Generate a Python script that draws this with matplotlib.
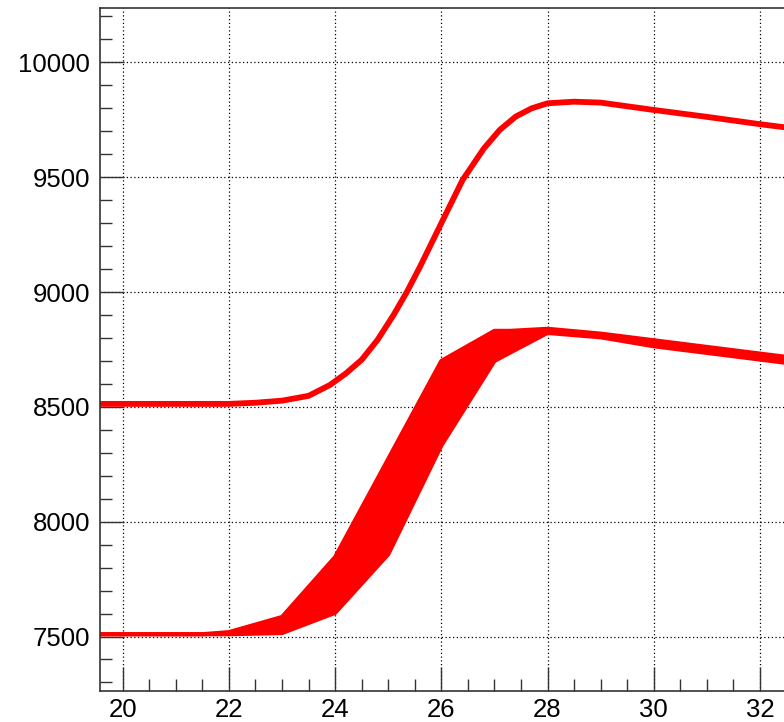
import numpy as np
import matplotlib.pyplot as plt
from matplotlib.ticker import MultipleLocator

plt.rcParams['font.family'] = ['Liberation Sans', 'DejaVu Sans']

# upper curve (thin band)
upper_x = [19.5, 22, 22.5, 23, 23.5, 23.9, 24.2, 24.5, 24.8, 25.1, 25.35, 25.6,
           26, 26.4, 26.8, 27.1, 27.4, 27.7, 28, 28.5, 29, 30, 31, 32, 33]
upper_y = [8513, 8513, 8518, 8527, 8548, 8595, 8645, 8705, 8792, 8900, 9000, 9111,
           9300, 9488, 9625, 9706, 9764, 9800, 9822, 9829, 9825, 9793, 9763, 9731, 9702]

# lower ensemble, envelope of the many lines
band_x = [19.5, 20, 21, 21.5, 22, 23, 24, 25, 26, 27, 27.3, 28, 29, 30, 31, 32, 33]
band_low = [7510, 7510, 7510, 7510, 7510, 7515, 7603, 7858, 8332, 8700, 8737,
            8822, 8803, 8764, 8735, 8706, 8677]
band_high = [7510, 7510, 7510, 7510, 7519, 7585, 7846, 8273, 8700, 8831, 8831,
             8840, 8819, 8790, 8761, 8732, 8703]

red = '#ff0000'

fig = plt.figure(figsize=(7.84, 7.22), dpi=100)
ax = fig.add_axes([0.12755, 0.04335, 0.87245, 0.94557])

ax.fill_between(band_x, band_low, band_high, color=red, lw=0)
ax.plot(band_x, band_low, color=red, lw=3)
ax.plot(band_x, band_high, color=red, lw=3)
ax.plot(upper_x, upper_y, color=red, lw=4.2, solid_joinstyle='round')

ax.set_xlim(19.573, 32.452)
ax.set_ylim(7264, 10237)

ax.xaxis.set_major_locator(MultipleLocator(2))
ax.xaxis.set_minor_locator(MultipleLocator(0.5))
ax.yaxis.set_major_locator(MultipleLocator(500))
ax.yaxis.set_minor_locator(MultipleLocator(100))

ax.grid(True, which='major', color='black', lw=0.9, linestyle=(0, (1, 2)))
ax.set_axisbelow(True)

ax.tick_params(which='both', direction='in', color='#333333', width=1,
               labelsize=18.5, top=False, right=False)
ax.tick_params(which='major', length=17)
ax.tick_params(which='minor', length=8.5)
ax.tick_params(axis='y', pad=7)
ax.tick_params(axis='x', pad=5)

for side in ['left', 'bottom', 'top']:
    ax.spines[side].set_color('#333333')
    ax.spines[side].set_linewidth(1.2)
ax.spines['right'].set_visible(False)

fig.savefig('out.png', dpi=100)
